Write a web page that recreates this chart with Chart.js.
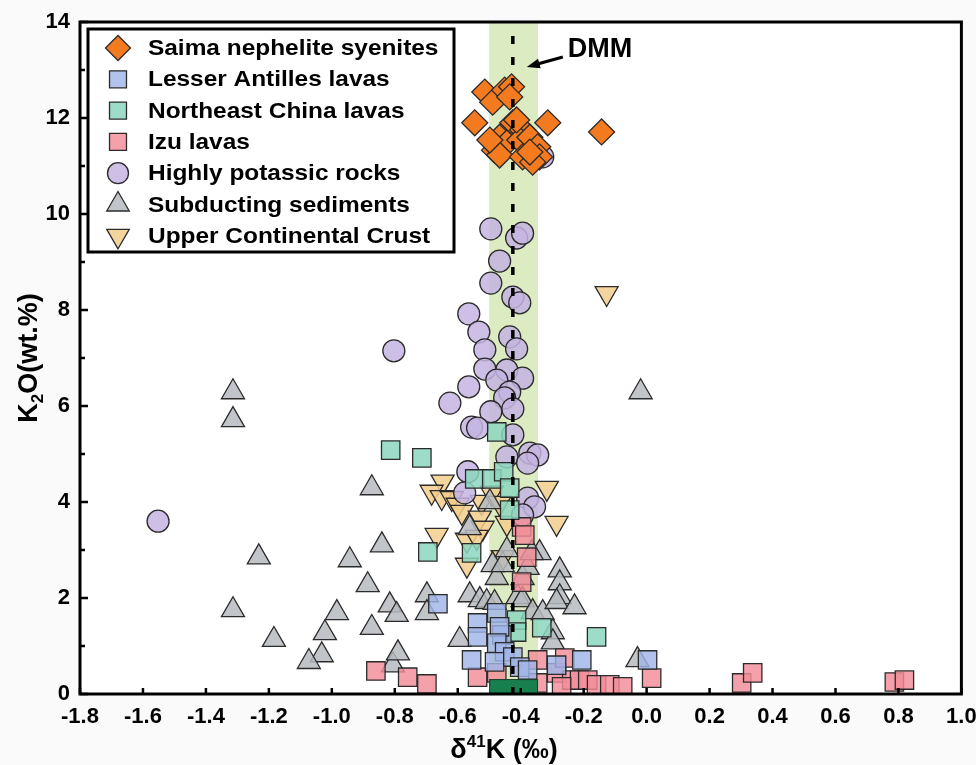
<!DOCTYPE html>
<html><head><meta charset="utf-8">
<script src="https://cdn.jsdelivr.net/npm/chart.js@4/dist/chart.umd.min.js"></script>
<style>html,body{margin:0;padding:0;background:#fafafa;}canvas{display:block;}</style>
</head><body>
<canvas id="c" width="976" height="765"></canvas>
<script>
// ---- data (delta41K permil, K2O wt.%) ----
const seriesNames = ["Saima nephelite syenites","Lesser Antilles lavas","Northeast China lavas","Izu lavas","Highly potassic rocks","Subducting sediments","Upper Continental Crust"];
const xTicks = [-1.8,-1.6,-1.4,-1.2,-1.0,-0.8,-0.6,-0.4,-0.2,0.0,0.2,0.4,0.6,0.8,1.0];
const yTicks = [0,2,4,6,8,10,12,14];

const saimaX = [-0.514,-0.489,-0.451,-0.429,-0.435,-0.546,-0.314,-0.143,-0.425,-0.394,-0.467,-0.444,-0.483,-0.467,-0.403,-0.371,-0.346,-0.394,-0.340,-0.362,-0.413,-0.498,-0.371];
const saimaY = [12.54,12.33,12.58,12.65,12.44,11.90,11.90,11.71,11.90,11.75,11.60,11.48,11.33,11.23,11.54,11.60,11.40,11.19,11.19,11.08,11.96,11.54,11.29];

const antillesX = [-0.663,-0.476,-0.537,-0.537,-0.460,-0.467,-0.476,-0.451,-0.556,-0.483,-0.425,-0.403,-0.378,-0.286,-0.206,0.003];
const antillesY = [1.88,1.69,1.48,1.19,1.23,1.40,1.06,0.88,0.71,0.67,0.77,0.56,0.50,0.60,0.71,0.71];

const neChinaX = [-0.813,-0.714,-0.476,-0.546,-0.492,-0.454,-0.435,-0.435,-0.695,-0.556,-0.413,-0.413,-0.333,-0.159];
const neChinaY = [5.08,4.92,5.46,4.48,4.48,4.63,4.29,3.83,2.96,2.94,1.54,1.29,1.38,1.19];

const izuX = [-0.860,-0.759,-0.698,-0.537,-0.476,-0.397,-0.387,-0.381,-0.397,-0.346,-0.346,-0.286,-0.260,-0.238,-0.213,-0.187,-0.159,-0.117,-0.076,-0.270,0.016,0.302,0.337,0.787,0.819];
const izuY = [0.48,0.35,0.21,0.35,0.44,3.48,3.31,2.85,2.33,0.71,0.23,0.44,0.75,0.29,0.29,0.29,0.19,0.19,0.15,0.15,0.33,0.23,0.44,0.25,0.29];

const potassicX = [-1.552,-0.803,-0.495,-0.413,-0.394,-0.467,-0.495,-0.425,-0.403,-0.565,-0.533,-0.435,-0.514,-0.413,-0.514,-0.444,-0.394,-0.476,-0.565,-0.625,-0.435,-0.451,-0.425,-0.495,-0.556,-0.537,-0.425,-0.444,-0.371,-0.346,-0.378,-0.568,-0.578,-0.378,-0.356,-0.394,-0.330];
const potassicY = [3.60,7.15,9.69,9.50,9.60,9.02,8.56,8.27,8.15,7.92,7.54,7.44,7.17,7.19,6.77,6.75,6.58,6.54,6.40,6.06,6.29,6.17,5.94,5.88,5.56,5.54,5.40,4.94,5.02,4.98,4.81,4.63,4.19,4.08,3.90,3.73,11.19];

const sedimentsX = [-1.314,-1.314,-0.873,-1.232,-0.841,-0.943,-0.886,-1.314,-0.984,-0.816,-0.873,-1.022,-1.184,-1.032,-1.073,-0.806,-0.790,-0.794,-0.019,-0.698,-0.698,-0.562,-0.530,-0.508,-0.483,-0.489,-0.476,-0.457,-0.594,-0.410,-0.394,-0.362,-0.330,-0.298,-0.298,-0.276,-0.276,-0.276,-0.286,-0.229,-0.029,-0.340,-0.394,-0.378,-0.562,-0.498,-0.444,-0.365];
const sedimentsY = [6.29,5.71,4.29,2.85,3.10,2.79,2.27,1.75,1.69,1.85,1.38,1.27,1.13,0.81,0.67,0.60,0.85,1.65,6.29,2.06,1.69,2.06,1.96,1.92,1.90,2.69,2.42,2.69,1.13,2.02,1.96,1.71,1.69,1.29,1.08,2.58,2.31,2.02,1.92,1.81,0.71,2.94,2.42,2.63,3.46,4.00,3.00,2.94];

const crustX = [-0.127,-0.648,-0.683,-0.651,-0.619,-0.600,-0.587,-0.524,-0.492,-0.467,-0.530,-0.521,-0.444,-0.317,-0.286,-0.667,-0.571,-0.571,-0.457,-0.540];
const crustY = [8.35,4.42,4.21,4.10,4.08,3.94,3.79,4.00,4.19,3.98,3.67,3.46,3.56,4.29,3.56,3.31,3.21,2.69,2.85,3.27];

// DMM reference
const dmmBand = [-0.50, -0.345];
const dmmValue = -0.425;
const dmmBoxTop = 0.31;

const pts = (xs, ys) => xs.map((v, i) => ({x: v, y: ys[i]}));
const FONT = "'Liberation Sans', Arial, Helvetica, sans-serif";

function ds(label, xs, ys, style, fill, radius, rotation) {
  return {label, data: pts(xs, ys), pointStyle: style, pointRadius: radius, pointRotation: rotation || 0,
    pointBackgroundColor: fill, pointBorderColor: '#2b2b2b', pointBorderWidth: 1.3, showLine: false};
}

const datasets = [
  ds(seriesNames[0], saimaX, saimaY, 'rectRot', '#f37a1f', 13),
  ds(seriesNames[1], antillesX, antillesY, 'rect', 'rgba(160,180,232,0.82)', 13),
  ds(seriesNames[2], neChinaX, neChinaY, 'rect', 'rgba(140,214,190,0.85)', 13),
  ds(seriesNames[3], izuX, izuY, 'rect', 'rgba(243,140,152,0.82)', 13),
  ds(seriesNames[4], potassicX, potassicY, 'circle', 'rgba(196,180,226,0.85)', 11),
  ds(seriesNames[5], sedimentsX, sedimentsY, 'triangle', 'rgba(182,186,190,0.85)', 13.3),
  ds(seriesNames[6], crustX, crustY, 'triangle', 'rgba(242,206,140,0.85)', 13.3, 180),
];

const deco = {
  id: 'deco',
  beforeDraw(chart) {
    const {ctx, chartArea: a} = chart;
    ctx.save();
    ctx.fillStyle = '#fafafa';
    ctx.fillRect(0, 0, chart.width, chart.height);
    ctx.fillStyle = '#ffffff';
    ctx.fillRect(a.left, a.top, a.right - a.left, a.bottom - a.top);
    ctx.restore();
  },
  beforeDatasetsDraw(chart) {
    const {ctx, chartArea: a, scales: {x}} = chart;
    ctx.save();
    const x1 = x.getPixelForValue(dmmBand[0]), x2 = x.getPixelForValue(dmmBand[1]);
    ctx.fillStyle = '#dcebc2';
    ctx.fillRect(x1, a.top, x2 - x1, a.bottom - a.top);
    ctx.restore();
  },
  afterDatasetsDraw(chart) {
    const {ctx, chartArea: a, scales: {x, y}} = chart;
    ctx.save();
    // dark green box at base
    const x1 = x.getPixelForValue(dmmBand[0]), x2 = x.getPixelForValue(dmmBand[1]);
    const by = y.getPixelForValue(dmmBoxTop);
    ctx.fillStyle = '#17804e';
    ctx.fillRect(x1, by, x2 - x1, a.bottom - by);
    ctx.strokeStyle = '#1f3a2a'; ctx.lineWidth = 1;
    ctx.strokeRect(x1 + 0.5, by + 0.5, x2 - x1 - 1, a.bottom - by);
    // dashed DMM line
    const dx = x.getPixelForValue(dmmValue);
    ctx.strokeStyle = '#000'; ctx.lineWidth = 3.5; ctx.setLineDash([8, 13]);
    ctx.beginPath(); ctx.moveTo(dx, a.top + 14); ctx.lineTo(dx, a.bottom); ctx.stroke();
    ctx.setLineDash([]);
    // DMM label + arrow
    ctx.fillStyle = '#000';
    ctx.font = `bold 27px ${FONT}`;
    ctx.textBaseline = 'middle'; ctx.textAlign = 'left';
    ctx.fillText('DMM', dx + 55, a.top + 28);
    const ax0 = dx + 50, ay0 = a.top + 35, ax1 = dx + 14, ay1 = a.top + 45;
    ctx.lineWidth = 3;
    ctx.beginPath(); ctx.moveTo(ax0, ay0); ctx.lineTo(ax1 + 8, ay1 - 2.2); ctx.stroke();
    const ang = Math.atan2(ay1 - ay0, ax1 - ax0);
    ctx.beginPath();
    ctx.moveTo(ax1, ay1);
    ctx.lineTo(ax1 - 13 * Math.cos(ang) + 5 * Math.sin(ang), ay1 - 13 * Math.sin(ang) - 5 * Math.cos(ang));
    ctx.lineTo(ax1 - 13 * Math.cos(ang) - 5 * Math.sin(ang), ay1 - 13 * Math.sin(ang) + 5 * Math.cos(ang));
    ctx.closePath(); ctx.fill();

    // frame
    ctx.strokeStyle = '#000'; ctx.lineWidth = 3;
    ctx.strokeRect(a.left, a.top, a.right - a.left, a.bottom - a.top);
    // inward ticks
    ctx.lineWidth = 2.5;
    ctx.beginPath();
    xTicks.forEach(v => { const px = x.getPixelForValue(v); ctx.moveTo(px, a.bottom); ctx.lineTo(px, a.bottom - 6); });
    for (let v = 0; v <= 14; v += 1) {
      const py = y.getPixelForValue(v);
      const len = (v % 2 === 0) ? 8 : 5;
      ctx.moveTo(a.left, py); ctx.lineTo(a.left + len, py);
    }
    ctx.stroke();

    // legend
    const lx = 88, ly = 29, lw = 366, lh = 223;
    ctx.lineWidth = 3;
    ctx.strokeRect(lx, ly, lw, lh);
    const rowH = 31.3;
    chart.data.datasets.forEach((d, i) => {
      const cy = ly + 19 + i * rowH;
      ctx.fillStyle = d.pointBackgroundColor;
      ctx.strokeStyle = d.pointBorderColor;
      ctx.lineWidth = d.pointBorderWidth;
      const r = d.pointStyle === 'circle' ? 10.5 : (d.pointStyle === 'rect' ? 12 : (d.pointStyle === 'rectRot' ? 12.5 : 13));
      Chart.helpers.drawPoint(ctx, {pointStyle: d.pointStyle, rotation: d.pointRotation, radius: r, borderWidth: d.pointBorderWidth}, 118, cy);
      ctx.fillStyle = '#000';
      ctx.font = `bold 22px ${FONT}`;
      ctx.textBaseline = 'middle'; ctx.textAlign = 'left';
      ctx.save(); ctx.translate(148, cy + 1); ctx.scale(1.11, 1); ctx.fillText(d.label, 0, 0); ctx.restore();
    });

    // axis titles
    ctx.fillStyle = '#000';
    ctx.textBaseline = 'alphabetic';
    // x title: δ41K (‰)
    const xt = 504, yt = 758;
    ctx.font = `bold 27px ${FONT}`;
    const p1 = 'δ', p3 = 'K (‰)';
    const sup = '41';
    const w1 = ctx.measureText(p1).width, w3 = ctx.measureText(p3).width;
    ctx.font = `bold 17px ${FONT}`;
    const w2 = ctx.measureText(sup).width;
    let sx = xt - (w1 + w2 + w3) / 2;
    ctx.font = `bold 27px ${FONT}`; ctx.textAlign = 'left';
    ctx.fillText(p1, sx, yt); sx += w1;
    ctx.font = `bold 17px ${FONT}`; ctx.fillText(sup, sx, yt - 11); sx += w2;
    ctx.font = `bold 27px ${FONT}`; ctx.fillText(p3, sx, yt);
    // y title: K2O(wt.%)
    ctx.save();
    ctx.translate(37, 358);
    ctx.rotate(-Math.PI / 2);
    ctx.font = `bold 27px ${FONT}`;
    const q1 = 'K', q3 = 'O(wt.%)';
    const v1 = ctx.measureText(q1).width, v3 = ctx.measureText(q3).width;
    ctx.font = `bold 17px ${FONT}`;
    const v2 = ctx.measureText('2').width;
    let qx = -(v1 + v2 + v3) / 2;
    ctx.font = `bold 27px ${FONT}`; ctx.fillText(q1, qx, 0); qx += v1;
    ctx.font = `bold 17px ${FONT}`; ctx.fillText('2', qx, 6); qx += v2;
    ctx.font = `bold 27px ${FONT}`; ctx.fillText(q3, qx, 0);
    ctx.restore();
    ctx.restore();
  }
};

new Chart(document.getElementById('c'), {
  type: 'scatter',
  data: {datasets},
  options: {
    responsive: false,
    animation: false,
    events: [],
    layout: {padding: {left: 0, top: 22, right: 14, bottom: 0}},
    plugins: {legend: {display: false}, tooltip: {enabled: false}},
    scales: {
      x: {
        type: 'linear', min: -1.8, max: 1.0,
        afterBuildTicks: s => { s.ticks = xTicks.map(v => ({value: v})); },
        afterFit: s => { s.height = 71; s.paddingLeft = 0; s.paddingRight = 0; },
        grid: {display: false, drawTicks: false},
        border: {display: false},
        ticks: {padding: 10, color: '#000', font: {family: FONT, size: 22, weight: 'bold'}, maxRotation: 0, autoSkip: false,
          callback: v => Number(v).toFixed(1)}
      },
      y: {
        type: 'linear', min: 0, max: 14,
        afterBuildTicks: s => { s.ticks = yTicks.map(v => ({value: v})); },
        afterFit: s => { s.width = 80; s.paddingTop = 0; s.paddingBottom = 0; },
        grid: {display: false, drawTicks: false},
        border: {display: false},
        ticks: {padding: 10, color: '#000', font: {family: FONT, size: 22, weight: 'bold'}, autoSkip: false,
          callback: v => String(v)}
      }
    }
  },
  plugins: [deco]
});
</script>
</body></html>
